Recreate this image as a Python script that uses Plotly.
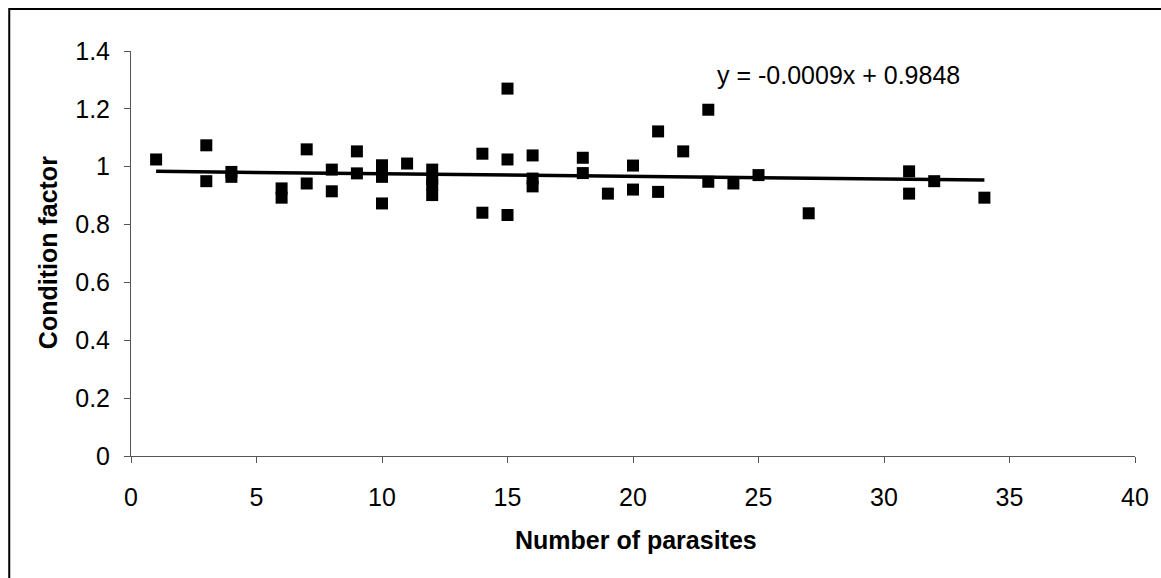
import plotly.graph_objects as go

# Data
parasites = [1, 3, 3, 4, 4, 6, 6, 7, 7, 8, 8, 9, 9, 10, 10, 10, 11,
             12, 12, 12, 12, 14, 14, 15, 15, 15, 16, 16, 16, 18, 18, 19,
             20, 20, 21, 21, 22, 23, 23, 24, 25, 27, 31, 31, 32, 34]
condition = [1.025, 1.074, 0.950, 0.982, 0.965, 0.925, 0.893, 1.060, 0.942,
             0.990, 0.915, 1.053, 0.977, 1.005, 0.965, 0.873, 1.011,
             0.990, 0.958, 0.938, 0.902, 1.045, 0.841, 1.270, 1.025, 0.833,
             1.039, 0.959, 0.932, 1.031, 0.978, 0.907,
             1.004, 0.921, 1.122, 0.913, 1.053, 1.197, 0.948, 0.942, 0.971,
             0.839, 0.984, 0.907, 0.950, 0.893]

slope = -0.0009
intercept = 0.9848
trend_x = [min(parasites), max(parasites)]
trend_y = [slope * v + intercept for v in trend_x]

x_ticks = [0, 5, 10, 15, 20, 25, 30, 35, 40]
y_ticks = [0, 0.2, 0.4, 0.6, 0.8, 1.0, 1.2, 1.4]
y_tick_text = ["0", "0.2", "0.4", "0.6", "0.8", "1", "1.2", "1.4"]

W, H = 1161, 578
L, R, T, B = 131, 24, 51, 122

font_family = "Liberation Sans, Arial, sans-serif"
FS = 25

fig = go.Figure()
fig.add_trace(go.Scatter(
    x=trend_x, y=trend_y, mode="lines",
    line=dict(color="black", width=3.5),
    showlegend=False, hoverinfo="skip",
))
fig.add_trace(go.Scatter(
    x=parasites, y=condition, mode="markers",
    marker=dict(symbol="square", size=12, color="black",
                line=dict(width=0)),
    showlegend=False,
))

axis_common = dict(
    showgrid=False, zeroline=False, showline=True,
    linecolor="#555555", linewidth=1,
    ticks="outside", ticklen=6, tickcolor="#555555", tickwidth=1,
    tickfont=dict(family=font_family, size=FS, color="black"),
)

fig.update_xaxes(range=[0, 40], tickvals=x_ticks,
                 ticklabelstandoff=13, **axis_common)
fig.update_yaxes(range=[0, 1.4], tickvals=y_ticks, ticktext=y_tick_text,
                 ticklabelstandoff=9, **axis_common)

pw = W - L - R
ph = H - T - B

def px_to_paper_x(px):
    return (px - L) / pw

def px_to_paper_y(py):
    return (H - B - py) / ph

fig.update_layout(
    width=W, height=H,
    margin=dict(l=L, r=R, t=T, b=B, pad=0),
    paper_bgcolor="white", plot_bgcolor="white",
    font=dict(family=font_family, color="black"),
    annotations=[
        dict(text="y = -0.0009x + 0.9848", xref="paper", yref="paper",
             x=px_to_paper_x(840), y=px_to_paper_y(75.5),
             xanchor="center", yanchor="middle", showarrow=False,
             font=dict(family=font_family, size=FS, color="black")),
        dict(text="<b>Number of parasites</b>", xref="paper", yref="paper",
             x=px_to_paper_x(637), y=px_to_paper_y(540),
             xanchor="center", yanchor="middle", showarrow=False,
             font=dict(family=font_family, size=FS, color="black")),
        dict(text="<b>Condition factor</b>", xref="paper", yref="paper",
             x=px_to_paper_x(48), y=px_to_paper_y(253),
             xanchor="center", yanchor="middle", showarrow=False,
             textangle=-90,
             font=dict(family=font_family, size=FS, color="black")),
    ],
    shapes=[
        dict(type="rect", xref="paper", yref="paper",
             x0=px_to_paper_x(9), x1=px_to_paper_x(1175),
             y0=px_to_paper_y(600), y1=px_to_paper_y(9),
             line=dict(color="black", width=2), layer="above"),
    ],
)

fig.write_html("out.html", config={"displayModeBar": False},
               post_script="document.body.style.margin='0px';")
